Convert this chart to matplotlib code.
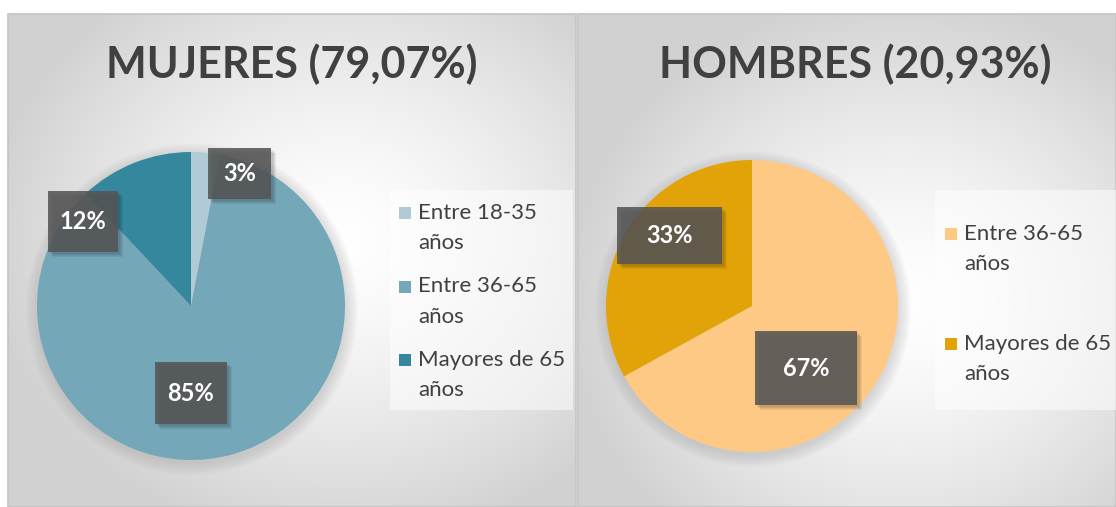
import numpy as np
import matplotlib.pyplot as plt
from matplotlib.patches import Rectangle, Circle

# data
women_title = "MUJERES (79,07%)"
men_title = "HOMBRES (20,93%)"
women_labels = ["Entre 18-35\naños", "Entre 36-65\naños", "Mayores de 65\naños"]
women_values = [3, 85, 12]
women_colors = ["#b0cbd4", "#74a7b8", "#35879d"]
men_labels = ["Entre 36-65\naños", "Mayores de 65\naños"]
men_values = [67, 33]
men_colors = ["#fdc985", "#e2a308"]

W, H = 1116, 507
plt.rcParams['font.family'] = ['Lato', 'DejaVu Sans']

fig = plt.figure(figsize=(W / 100, H / 100), dpi=100)
ax = fig.add_axes([0, 0, 1, 1])
ax.set_facecolor("white")


def py(y):
    # image row -> plot y
    return H - y


def panel_bg(x0, x1, y0, y1, cx, cy):
    xs = np.linspace(x0, x1, 300)
    ys = np.linspace(y0, y1, 300)
    X, Y = np.meshgrid(xs, ys)
    r = np.sqrt(((X - cx) / (x1 - x0) * 1.6) ** 2 + ((Y - cy) / (y1 - y0) * 1.6) ** 2)
    t = np.clip(r, 0, 1) ** 1.4
    v = 1.0 - 0.18 * t
    img = np.dstack([v, v, v])
    ax.imshow(img, extent=(x0, x1, py(y1), py(y0)), origin="upper",
              aspect="auto", zorder=0, interpolation="bilinear")
    ax.add_patch(Rectangle((x0, py(y1)), x1 - x0, y1 - y0, fill=False,
                           ec="#c4c4c4", lw=1.2, zorder=1))


panel_bg(8, 576, 14, 507, 340, 240)
panel_bg(578, 1116, 14, 507, 900, 300)


def draw_pie(values, colors, cx, cy, r, label_pos, box_sizes):
    # soft shadow
    for k in range(10):
        ax.add_patch(Circle((cx + 1, py(cy) - 3), r + 12 - k * 1.3,
                            color="#9a9a9a", alpha=0.035, lw=0, zorder=2))
    ax.pie(values, colors=colors, startangle=90, counterclock=False,
           center=(cx, py(cy)), radius=r, frame=True,
           wedgeprops=dict(linewidth=0, zorder=3))
    for v, (dx, dy), (bw, bh) in zip(values, label_pos, box_sizes):
        bx = cx + dx * r
        by = py(cy) + dy * r
        for k in range(4):
            ax.add_patch(Rectangle((bx - bw / 2 + 2 + k, by - bh / 2 - 2 - k), bw, bh,
                                   color="#000000", alpha=0.06, lw=0, zorder=4))
        ax.add_patch(Rectangle((bx - bw / 2, by - bh / 2), bw, bh,
                               color="#555555", alpha=0.87, lw=0, zorder=5))
        ax.text(bx, by, f"{v}%", color="white", fontsize=17, fontweight="bold",
                ha="center", va="center", zorder=6)


draw_pie(women_values, women_colors, 191, 306, 154,
         [(0.315, 0.86), (0.0, -0.565), (-0.70, 0.55)],
         [(63, 51), (72, 62), (70, 61)])
draw_pie(men_values, men_colors, 752, 306, 146,
         [(0.37, -0.425), (-0.565, 0.483)],
         [(102, 74), (105, 57)])


def draw_legend(labels, colors, x0, x1, y0, y1, sq_x, first_y, step):
    ax.add_patch(Rectangle((x0, py(y1)), x1 - x0, y1 - y0, color="white",
                           alpha=0.5, lw=0, zorder=2))
    for i, (lab, c) in enumerate(zip(labels, colors)):
        yy = first_y + i * step
        ax.add_patch(Rectangle((sq_x, py(yy) - 6), 12, 12, color=c, lw=0, zorder=3))
        ax.text(sq_x + 19, py(yy) + 10, lab, color="#404040", fontsize=16,
                ha="left", va="top", linespacing=1.65, zorder=3)


draw_legend(women_labels, women_colors, 390, 573, 190, 410, 399, 213, 73.5)
draw_legend(men_labels, men_colors, 935, 1116, 190, 410, 945, 234, 110)

ax.text(292, py(64), women_title, fontsize=31, fontweight="bold", color="#404040",
        ha="center", va="center", zorder=3)
ax.text(855, py(64), men_title, fontsize=31, fontweight="bold", color="#404040",
        ha="center", va="center", zorder=3)

ax.set_xlim(0, W)
ax.set_ylim(0, H)
ax.set_aspect("auto")
ax.axis("off")

fig.savefig("out.png", dpi=100)
